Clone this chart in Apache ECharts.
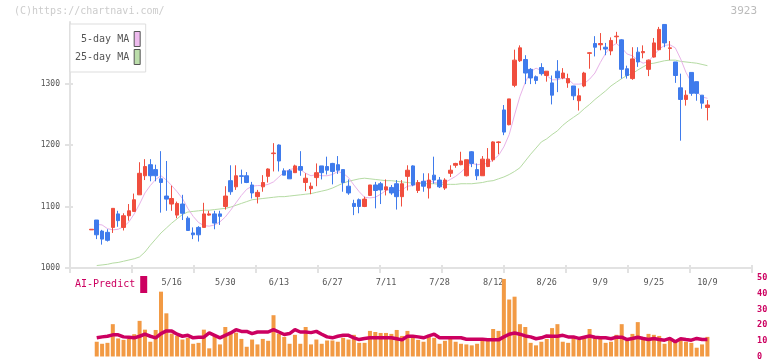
<!DOCTYPE html>
<html><head><meta charset="utf-8">
<script src="https://cdn.jsdelivr.net/npm/echarts@6/dist/echarts.min.js"></script>
<style>html,body{margin:0;padding:0;background:#fff}#c{width:772px;height:361px}</style>
</head><body><div id="c"></div>
<script>
const dates = ['4/22','4/23','4/24','4/25','4/28','4/30','5/1','5/2','5/7','5/8',
'5/9','5/12','5/13','5/14','5/15','5/16','5/19','5/20','5/21','5/22',
'5/23','5/26','5/27','5/28','5/29','5/30','6/2','6/3','6/4','6/5',
'6/6','6/9','6/10','6/11','6/12','6/13','6/16','6/17','6/18','6/19',
'6/20','6/23','6/24','6/25','6/26','6/27','6/30','7/1','7/2','7/3',
'7/4','7/7','7/8','7/9','7/10','7/11','7/14','7/15','7/16','7/17',
'7/18','7/22','7/23','7/24','7/25','7/28','7/29','7/30','7/31','8/1',
'8/4','8/5','8/6','8/7','8/8','8/12','8/13','8/14','8/15','8/18',
'8/19','8/20','8/21','8/22','8/25','8/26','8/27','8/28','8/29','9/1',
'9/2','9/3','9/4','9/5','9/8','9/9','9/10','9/11','9/12','9/16',
'9/17','9/18','9/19','9/22','9/24','9/25','9/26','9/29','9/30','10/1',
'10/2','10/3','10/6','10/7','10/8','10/9'];

const shownDates = ['5/16','5/30','6/13','6/27','7/11','7/28','8/12','8/26','9/9','9/25','10/9'];

const opens = [1062,1078,1060,1058,1066,1088,1066,1085,1092,1119,
1150,1168,1160,1145,1117,1104,1086,1104,1081,1057,
1066,1066,1086,1088,1088,1100,1142,1132,1150,1150,
1135,1116,1132,1149,1186,1200,1158,1158,1155,1165,
1139,1129,1147,1166,1165,1170,1168,1160,1133,1105,
1111,1100,1118,1135,1137,1127,1131,1137,1116,1149,
1166,1126,1141,1130,1151,1143,1130,1154,1167,1168,
1150,1189,1160,1150,1165,1176,1204,1257,1233,1297,
1337,1339,1323,1311,1326,1313,1301,1320,1309,1301,
1296,1272,1296,1349,1365,1363,1359,1353,1376,1371,
1324,1308,1351,1350,1323,1343,1355,1396,1357,1335,
1293,1274,1318,1303,1281,1261];

const closes = [1063,1054,1047,1045,1097,1077,1085,1093,1111,1154,
1165,1150,1150,1139,1112,1113,1105,1089,1061,1054,
1054,1088,1088,1073,1084,1117,1124,1150,1149,1139,
1122,1123,1139,1161,1187,1174,1151,1145,1166,1159,
1146,1133,1155,1155,1159,1157,1159,1139,1122,1100,
1100,1112,1135,1126,1127,1132,1122,1116,1137,1159,
1135,1139,1133,1143,1143,1132,1143,1159,1170,1174,
1176,1170,1150,1177,1177,1205,1205,1221,1275,1338,
1358,1317,1309,1305,1316,1320,1281,1309,1317,1308,
1280,1280,1317,1350,1359,1365,1356,1370,1377,1323,
1313,1340,1335,1352,1338,1366,1388,1366,1358,1313,
1274,1281,1284,1284,1268,1265];

const lows = [1062,1047,1038,1043,1057,1067,1061,1077,1092,1119,
1143,1141,1141,1090,1093,1093,1081,1078,1061,1047,
1043,1066,1085,1063,1070,1095,1119,1127,1137,1138,
1113,1105,1124,1139,1157,1157,1151,1145,1155,1150,
1125,1120,1133,1144,1152,1136,1153,1124,1119,1086,
1089,1099,1117,1097,1104,1118,1119,1095,1100,1126,
1133,1122,1124,1113,1137,1130,1127,1148,1163,1167,
1149,1164,1143,1150,1164,1173,1185,1216,1232,1294,
1335,1299,1299,1299,1313,1303,1266,1286,1307,1293,
1273,1256,1294,1324,1344,1354,1346,1346,1365,1308,
1308,1306,1327,1341,1312,1342,1354,1359,1338,1301,
1207,1264,1280,1272,1259,1240];

const highs = [1063,1078,1062,1063,1097,1093,1089,1104,1121,1172,
1177,1177,1168,1190,1174,1134,1108,1119,1084,1066,
1068,1106,1093,1093,1093,1133,1167,1167,1160,1156,
1140,1127,1151,1162,1203,1201,1162,1161,1168,1190,
1154,1139,1170,1166,1181,1171,1182,1160,1144,1111,
1113,1116,1135,1140,1140,1144,1135,1143,1143,1167,
1167,1143,1154,1154,1181,1148,1146,1167,1171,1189,
1176,1190,1170,1182,1195,1206,1206,1265,1275,1355,
1362,1346,1325,1313,1333,1320,1313,1338,1325,1316,
1296,1292,1319,1351,1377,1382,1366,1375,1384,1372,
1329,1359,1359,1362,1339,1374,1392,1396,1369,1335,
1316,1289,1318,1303,1281,1273];

const ma5 = [null,1071,1070,1064,1062,1063,1067,1075,1088,1104,
1122,1134,1144,1150,1143,1134,1124,1113,1097,1084,
1074,1069,1068,1070,1075,1083,1094,1106,1118,1128,
1133,1134,1134,1136,1140,1148,1156,1160,1162,1160,
1154,1150,1152,1150,1150,1152,1157,1154,1147,1135,
1124,1115,1114,1115,1120,1126,1128,1125,1127,1133,
1134,1137,1141,1142,1139,1138,1139,1144,1149,1156,
1164,1170,1168,1169,1170,1176,1183,1197,1217,1249,
1279,1302,1319,1325,1321,1313,1306,1306,1309,1307,
1299,1299,1300,1307,1317,1334,1349,1360,1365,1358,
1348,1345,1338,1333,1336,1346,1356,1362,1363,1358,
1340,1318,1302,1287,1278,1276];

const ma25 = [null,1004,1005,1006,1008,1009,1011,1013,1015,1018,
1026,1037,1047,1057,1065,1073,1080,1087,1091,1092,
1093,1094,1094,1095,1096,1097,1099,1102,1105,1108,
1111,1112,1113,1114,1115,1116,1116,1117,1118,1119,
1120,1121,1123,1125,1127,1130,1134,1138,1141,1143,
1145,1146,1145,1144,1143,1142,1142,1141,1140,1139,
1138,1138,1137,1137,1137,1136,1136,1136,1136,1137,
1137,1137,1138,1139,1141,1142,1145,1148,1152,1157,
1163,1174,1185,1195,1205,1210,1217,1223,1232,1239,
1245,1251,1259,1266,1274,1281,1288,1296,1302,1308,
1313,1316,1322,1327,1332,1333,1335,1337,1338,1338,
1336,1335,1334,1333,1331,1329];

const volume = [null,9.4,8.1,8.7,20.6,11.5,10.6,11.2,14.2,22.7,
17.1,9.4,16.9,41.3,27.5,14.6,13.1,10.8,11.9,8.1,
8.7,17.1,5.2,13.5,7.7,18.8,14.6,15.2,11.2,6.2,
10.8,7.7,11.2,10.0,26.3,14.6,12.5,8.1,13.8,8.1,
18.8,7.7,10.8,8.1,10.2,10.2,9.4,11.9,10.8,13.8,
8.7,8.7,16.3,15.6,15.0,15.0,14.4,16.9,13.1,16.3,
12.5,10.6,9.4,13.8,11.9,8.1,10.0,11.2,9.4,8.1,
7.7,7.1,8.1,10.0,10.6,17.5,16.3,49.4,36.3,38.1,
20.6,18.8,8.7,7.1,9.4,11.2,18.1,20.6,9.4,8.7,
11.9,10.6,11.9,17.5,11.9,11.2,8.7,9.4,13.8,20.6,
10.0,14.4,21.9,12.5,14.4,13.8,13.1,8.1,11.2,9.4,
10.6,9.4,8.7,5.6,7.7,12.5];

const aiPredict = [null,11.9,12.5,12.9,13.8,13.8,12.5,12.3,11.9,12.9,
14.2,12.9,11.9,14.6,16.3,16.3,14.2,12.9,13.5,11.9,
12.3,12.3,15.0,13.5,11.9,13.5,15.0,17.1,16.0,16.0,
14.6,15.6,15.6,15.6,17.1,15.6,14.0,14.6,17.1,15.6,
15.6,15.2,16.0,14.2,12.5,11.9,12.9,13.5,13.5,11.9,
10.8,11.5,11.9,11.9,11.9,11.9,11.9,11.3,10.6,12.9,
12.9,12.5,11.9,13.1,14.2,11.9,11.9,11.9,11.9,11.9,
11.0,11.0,11.0,11.0,10.6,10.6,10.6,12.5,14.2,15.0,
14.2,13.1,12.5,11.3,11.9,13.1,12.9,12.9,13.5,12.5,
12.5,11.5,12.3,13.1,12.3,11.9,11.9,11.3,12.3,12.3,
10.8,11.5,12.3,11.5,10.8,11.5,10.8,10.4,11.5,9.4,
11.3,10.8,10.4,11.5,10.8,10.8];

const priceTicks = [1000, 1100, 1200, 1300];
const volumeTicks = [0, 10, 20, 30, 40, 50];

const FONT = "'DejaVu Sans Mono', 'Liberation Mono', monospace";
const RED = '#f04e3e', BLUE = '#3f7bec', ORANGE = '#f29a44', CRIMSON = '#cc0060';
const AXIS = '#e2e2e2';

const candles = dates.map((d, i) => [opens[i], closes[i], lows[i], highs[i]]);

const chart = echarts.init(document.getElementById('c'));
chart.setOption({
  animation: false,
  backgroundColor: '#fff',
  title: [
    {text: '(C)https://chartnavi.com/', left: 14, top: 6, padding: 0,
     textStyle: {fontFamily: FONT, fontSize: 10, fontWeight: 'normal', color: '#cccccc'}},
    {text: '3923', right: 15, top: 6, padding: 0,
     textStyle: {fontFamily: FONT, fontSize: 11, fontWeight: 'normal', color: '#bbbbbb'}}
  ],
  legend: [
    {orient: 'vertical', left: 70, top: 24, align: 'right', selectedMode: false,
     itemWidth: 6, itemHeight: 15, itemGap: 2, padding: [7, 5, 7, 5],
     backgroundColor: '#fff', borderColor: '#dddddd', borderWidth: 1,
     textStyle: {fontFamily: FONT, fontSize: 10, color: '#555'},
     data: [
       {name: '5-day MA', icon: 'rect', itemStyle: {color: '#eebbee', borderColor: '#555', borderWidth: 1}},
       {name: '25-day MA', icon: 'rect', itemStyle: {color: '#bbddaa', borderColor: '#555', borderWidth: 1}}
     ]},
    {orient: 'horizontal', left: 75, top: 276, align: 'right', selectedMode: false,
     itemWidth: 7, itemHeight: 17, padding: 0,
     textStyle: {fontFamily: FONT, fontSize: 10, color: CRIMSON},
     data: [{name: 'AI-Predict', icon: 'rect', itemStyle: {color: CRIMSON, borderWidth: 0}}]}
  ],
  grid: [
    {left: 70, right: 20, top: 22, bottom: 93},
    {left: 88.7, right: 61.9, top: 22, bottom: 93},
    {left: 88.7, right: 61.9, top: 278, bottom: 3}
  ],
  xAxis: [
    {gridIndex: 0, type: 'value', position: 'bottom', min: 0, max: 11, interval: 1,
     axisLine: {lineStyle: {color: AXIS, width: 2}},
     axisTick: {length: 5, lineStyle: {color: AXIS, width: 2}},
     axisLabel: {show: false}, splitLine: {show: false}},
    {gridIndex: 0, type: 'value', position: 'bottom', min: 0, max: 11, interval: 1,
     axisLine: {show: false},
     axisTick: {inside: true, length: 3, lineStyle: {color: AXIS, width: 2}},
     axisLabel: {show: false}, splitLine: {show: false}},
    {gridIndex: 1, type: 'category', position: 'bottom', data: dates, boundaryGap: true,
     axisLine: {show: false}, axisTick: {show: false},
     axisLabel: {interval: (i, v) => shownDates.includes(v), margin: 10,
       fontFamily: FONT, fontSize: 8.5, color: '#555'},
     splitLine: {show: false}},
    {gridIndex: 2, type: 'category', data: dates, boundaryGap: true, show: false}
  ],
  yAxis: [
    {gridIndex: 0, type: 'value', position: 'left', min: 1000, max: 1400, interval: 100,
     axisLine: {show: true, lineStyle: {color: AXIS, width: 2}},
     axisTick: {show: true, length: 5, customValues: priceTicks, lineStyle: {color: AXIS, width: 2}},
     axisLabel: {customValues: priceTicks, formatter: v => String(v), margin: 10,
       fontFamily: FONT, fontSize: 8, color: '#555'},
     splitLine: {show: false}},
    {gridIndex: 0, type: 'value', position: 'left', min: 1000, max: 1400, interval: 100,
     axisLine: {show: false},
     axisTick: {show: true, inside: true, length: 3, customValues: priceTicks, lineStyle: {color: AXIS, width: 2}},
     axisLabel: {show: false}, splitLine: {show: false}},
    {gridIndex: 1, type: 'value', min: 1000, max: 1400, show: false},
    {gridIndex: 2, type: 'value', position: 'right', min: 0, max: 50, interval: 10, offset: 42,
     axisLine: {show: false}, axisTick: {show: false},
     axisLabel: {customValues: volumeTicks, formatter: v => String(v), margin: 5,
       fontFamily: FONT, fontSize: 8.5, fontWeight: 'bold', color: CRIMSON},
     splitLine: {show: false}}
  ],
  series: [
    {name: '25-day MA', type: 'line', xAxisIndex: 2, yAxisIndex: 2, data: ma25,
     symbol: 'none', lineStyle: {color: '#b5dba3', width: 1}, itemStyle: {color: '#bbddaa'}, z: 2},
    {name: '5-day MA', type: 'line', xAxisIndex: 2, yAxisIndex: 2, data: ma5,
     symbol: 'none', lineStyle: {color: '#e8b2e8', width: 1}, itemStyle: {color: '#eebbee'}, z: 2},
    {type: 'candlestick', xAxisIndex: 2, yAxisIndex: 2, data: candles, barWidth: 4,
     itemStyle: {color: RED, color0: BLUE, borderColor: RED, borderColor0: BLUE, borderWidth: 1}, z: 3},
    {type: 'bar', xAxisIndex: 3, yAxisIndex: 3, data: volume, barWidth: 4,
     itemStyle: {color: ORANGE}},
    {name: 'AI-Predict', type: 'line', xAxisIndex: 3, yAxisIndex: 3, data: aiPredict,
     symbol: 'none', lineStyle: {color: CRIMSON, width: 3.5}, itemStyle: {color: CRIMSON}, z: 4}
  ]
});
</script>
</body></html>
